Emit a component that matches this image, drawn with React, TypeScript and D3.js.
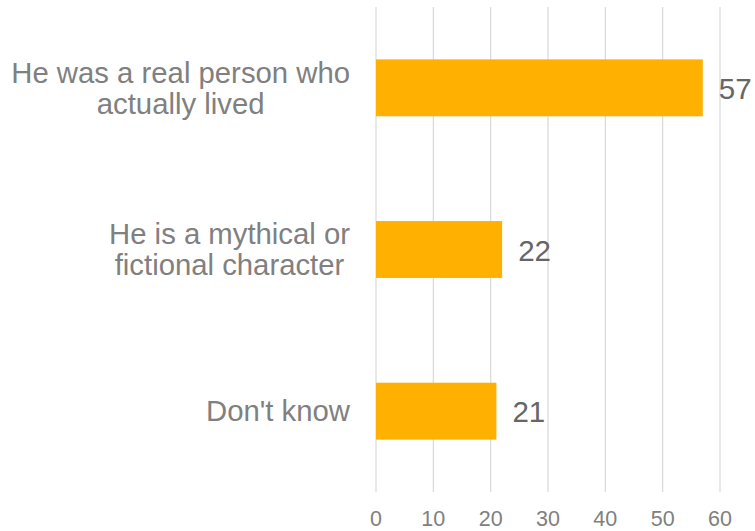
import React, { useEffect, useRef } from 'react';
import * as d3 from 'd3';

const categories = ['He was a real person who|actually lived', 'He is a mythical or|fictional character', "Don't know"];
const values = [57, 22, 21];
const ticks = [0, 10, 20, 30, 40, 50, 60];

const W = 755;
const H = 531;
const font = '"Liberation Sans", Arial, sans-serif';

export default function App() {
  const svgRef = useRef<SVGSVGElement>(null);

  useEffect(() => {
    if (!svgRef.current) return;
    const svg = d3.select(svgRef.current);
    svg.selectAll('*').remove();

    const x = d3.scaleLinear().domain([0, 60]).range([376, 720]);
    const y = d3.scaleBand<string>()
      .domain(categories)
      .range([7, 492])
      .paddingInner(0.648)
      .paddingOuter(0.324);

    // gridlines
    svg.append('g')
      .selectAll('line')
      .data(ticks)
      .join('line')
      .attr('x1', d => x(d))
      .attr('x2', d => x(d))
      .attr('y1', 7)
      .attr('y2', 492)
      .attr('stroke', '#d9d9d9')
      .attr('stroke-width', 1.2);

    // tick labels
    svg.append('g')
      .selectAll('text')
      .data(ticks)
      .join('text')
      .attr('x', d => x(d))
      .attr('y', 526)
      .attr('text-anchor', 'middle')
      .attr('font-family', font)
      .attr('font-size', 21.5)
      .attr('fill', '#808080')
      .text(d => d);

    // bars
    svg.append('g')
      .selectAll('rect')
      .data(categories)
      .join('rect')
      .attr('x', x(0))
      .attr('y', d => y(d) as number)
      .attr('width', (d, i) => x(values[i]) - x(0))
      .attr('height', y.bandwidth())
      .attr('fill', '#FFB000');

    // value labels
    svg.append('g')
      .selectAll('text')
      .data(categories)
      .join('text')
      .attr('x', (d, i) => x(values[i]) + 16)
      .attr('y', d => (y(d) as number) + y.bandwidth() / 2)
      .attr('dy', '0.38em')
      .attr('font-family', font)
      .attr('font-size', 29.5)
      .attr('fill', '#666666')
      .text((d, i) => values[i]);

    // category labels: lines centered within a right-aligned block
    const lineH = 31;
    categories.forEach(cat => {
      const lines = cat.split('|');
      const cy = (y(cat) as number) + y.bandwidth() / 2;
      const g = svg.append('text')
        .attr('font-family', font)
        .attr('font-size', 29.3)
        .attr('fill', '#808080')
        .attr('text-anchor', 'middle');
      const spans = lines.map((ln, i) =>
        g.append('tspan')
          .attr('y', cy + (i - (lines.length - 1) / 2) * lineH)
          .attr('dy', '0.35em')
          .text(ln)
      );
      const maxW = d3.max(spans, s => (s.node() as SVGTSPanElement).getComputedTextLength()) || 0;
      const cx = 350 - maxW / 2;
      spans.forEach(s => s.attr('x', cx));
    });
  }, []);

  return (
    <svg
      ref={svgRef}
      width={W}
      height={H}
      style={{ position: 'absolute', left: 0, top: 0, background: '#fff' }}
    />
  );
}
